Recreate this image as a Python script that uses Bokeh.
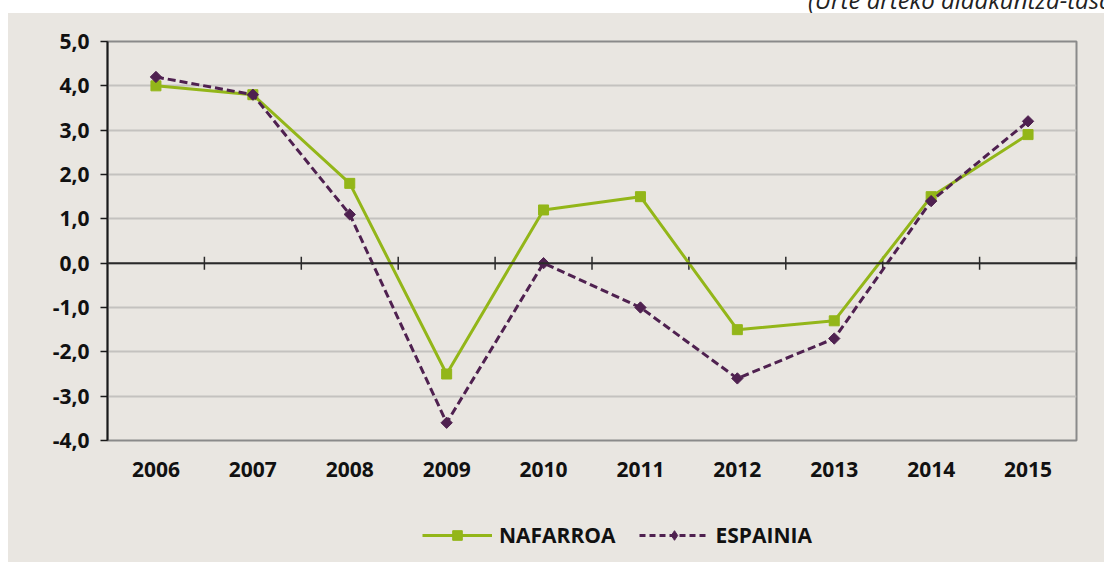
from bokeh.plotting import figure
from bokeh.models import (Range1d, FixedTicker, Span, Legend, Div, Column, CustomJSTickFormatter)
from bokeh.embed import file_html
from bokeh.resources import INLINE
import math

years = ["2006", "2007", "2008", "2009", "2010", "2011", "2012", "2013", "2014", "2015"]
nafarroa = [4.0, 3.8, 1.8, -2.5, 1.2, 1.5, -1.5, -1.3, 1.5, 2.9]
espainia = [4.2, 3.8, 1.1, -3.6, 0.0, -1.0, -2.6, -1.7, 1.4, 3.2]
y_ticks = [-4, -3, -2, -1, 0, 1, 2, 3, 4, 5]
series_names = ["NAFARROA", "ESPAINIA"]
subtitle = "(Urte arteko aldakuntza-tasa)"

BG = "#E9E6E1"
GREEN = "#93B619"
PURPLE = "#4F2150"
FONT = "Open Sans"

xpos = [i + 0.5 for i in range(len(years))]
bounds = [i + 1 for i in range(len(years))]

p = figure(width=1096, height=487, output_backend="svg", toolbar_location=None,
           x_range=Range1d(0, len(years)), y_range=Range1d(-4, 5),
           min_border_left=99, min_border_right=28, min_border_top=28, min_border_bottom=60,
           background_fill_color=BG, border_fill_color=BG, margin=0,
           styles={"background-color": BG})

p.outline_line_color = "#8A8A8A"
p.outline_line_width = 2
p.xgrid.grid_line_color = None
p.ygrid.grid_line_color = "#C4C2BF"
p.ygrid.grid_line_width = 2
p.ygrid.ticker = FixedTicker(ticks=y_ticks)

# y axis (decimal comma)
p.yaxis.ticker = FixedTicker(ticks=y_ticks)
p.yaxis.formatter = CustomJSTickFormatter(code="return tick.toFixed(1).replace('.', ',');")
p.yaxis.axis_line_color = "#1A1A1A"
p.yaxis.axis_line_width = 2
p.yaxis.major_tick_in = 0
p.yaxis.major_tick_out = 7
p.yaxis.major_tick_line_color = "#1A1A1A"
p.yaxis.major_tick_line_width = 1.5
p.yaxis.minor_tick_line_color = None
p.yaxis.major_label_standoff = 11
p.yaxis.major_label_text_font = FONT
p.yaxis.major_label_text_font_style = "bold"
p.yaxis.major_label_text_font_size = "21px"
p.yaxis.major_label_text_color = "#111111"

# x axis (labels only)
p.xaxis.ticker = FixedTicker(ticks=xpos)
p.xaxis.major_label_overrides = {x: y for x, y in zip(xpos, years)}
p.xaxis.axis_line_color = None
p.xaxis.major_tick_line_color = None
p.xaxis.minor_tick_line_color = None
p.xaxis.major_label_standoff = 15
p.xaxis.major_label_text_font = FONT
p.xaxis.major_label_text_font_style = "bold"
p.xaxis.major_label_text_font_size = "21px"
p.xaxis.major_label_text_color = "#111111"

# zero line with category boundary ticks
p.add_layout(Span(location=0, dimension="width", line_color="#2A2A2A", line_width=2))
p.scatter(x=bounds, y=[0] * len(bounds), marker="dash", angle=math.pi / 2, size=13,
          line_color="#2A2A2A", line_width=1.5)

# series
p.line(xpos, nafarroa, line_color=GREEN, line_width=3)
p.scatter(xpos, nafarroa, marker="square", size=10, fill_color=GREEN, line_color=GREEN)
p.line(xpos, espainia, line_color=PURPLE, line_width=3, line_dash="8 4")
p.scatter(xpos, espainia, marker="square", angle=math.pi / 4, size=8,
          fill_color=PURPLE, line_color=PURPLE)

# legend strip (separate figure so that it is not clipped)
nan = float("nan")
lf = figure(width=1096, height=62, output_backend="svg", toolbar_location=None,
            x_range=Range1d(0, 1), y_range=Range1d(0, 1), x_axis_type=None, y_axis_type=None,
            min_border_left=99, min_border_right=28, min_border_top=0, min_border_bottom=0,
            background_fill_alpha=0, border_fill_alpha=0, margin=0,
            styles={"background-color": BG})
lf.outline_line_color = None
lf.xgrid.grid_line_color = None
lf.ygrid.grid_line_color = None
g1 = lf.line([nan], [nan], line_color=GREEN, line_width=3)
s1 = lf.scatter([nan], [nan], marker="square", size=10, fill_color=GREEN, line_color=GREEN)
g2 = lf.line([nan], [nan], line_color=PURPLE, line_width=3, line_dash="6 4")
s2 = lf.scatter([nan], [nan], marker="diamond", size=12,
                fill_color=PURPLE, line_color=PURPLE)
legend = Legend(items=[(series_names[0], [g1, s1]), (series_names[1], [g2, s2])],
                orientation="horizontal", location=(315, 13),
                glyph_width=70, glyph_height=24, label_standoff=7, spacing=23,
                padding=0, margin=0, background_fill_alpha=0, border_line_color=None,
                label_text_font=FONT, label_text_font_style="bold",
                label_text_font_size="21px", label_text_color="#111111")
lf.add_layout(legend, "center")

title = Div(text=('<div style="position:relative; top:-12px; left:800px; white-space:nowrap; '
                  'font-family:\'Open Sans\'; font-style:italic; font-size:24px; '
                  'line-height:24px; color:#222;">' + subtitle + '</div>'),
            width=1096, height=13, margin=0, styles={"overflow": "visible"})

layout = Column(title, p, lf, spacing=0, margin=(0, 0, 0, 8))
open("out.html", "w").write(file_html(layout, INLINE))
